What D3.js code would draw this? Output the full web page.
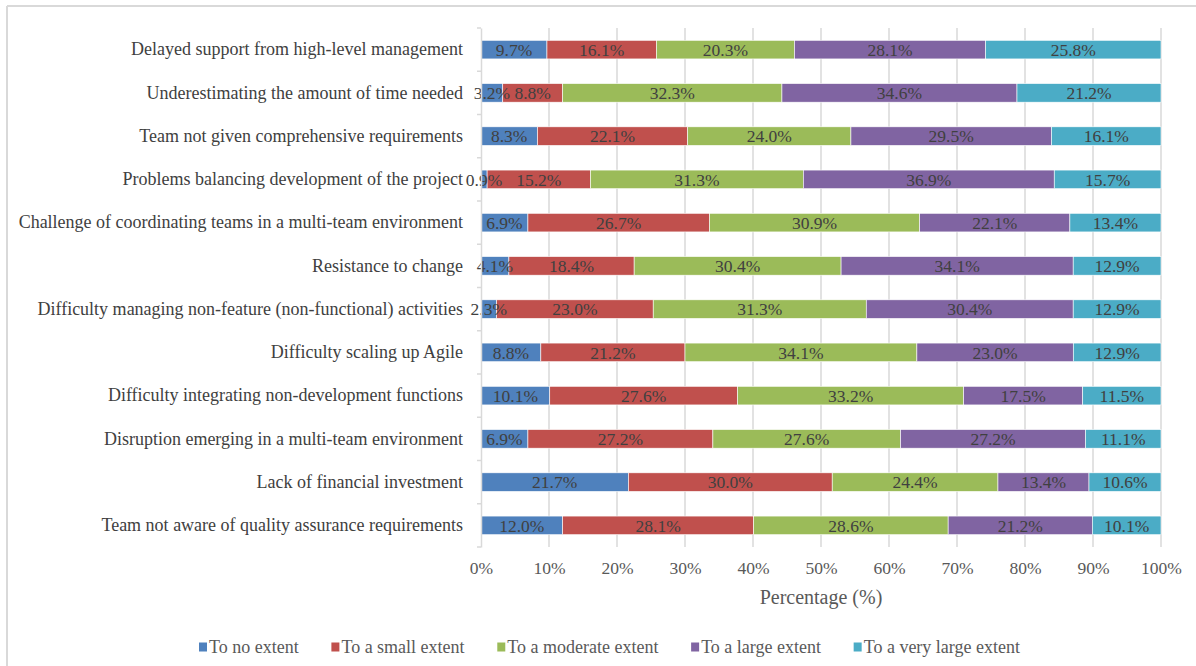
<!DOCTYPE html>
<html>
<head>
<meta charset="utf-8">
<script src="https://cdn.jsdelivr.net/npm/d3@7"></script>
<style>
  body { margin: 0; background: #fff; }
  text { font-family: "Liberation Serif", "Times New Roman", serif; }
</style>
</head>
<body>
<script>
const w = 1196;
const h = 666;

// categories, top to bottom
const categories = [
    "Delayed support from high-level management",
    "Underestimating the amount of time needed",
    "Team not given comprehensive requirements",
    "Problems balancing development of the project",
    "Challenge of coordinating teams  in a multi-team environment",
    "Resistance to change",
    "Difficulty managing non-feature (non-functional) activities",
    "Difficulty scaling up Agile",
    "Difficulty integrating non-development functions",
    "Disruption emerging in a multi-team environment",
    "Lack of financial investment",
    "Team not aware of quality assurance requirements"
];

const seriesNames = ["To no extent", "To a small extent", "To a moderate extent", "To a large extent", "To a very large extent"];
const colors = ["#4F81BD", "#C0504D", "#9BBB59", "#8064A2", "#4BACC6"];

const noExtent       = [9.7, 3.2, 8.3, 0.9, 6.9, 4.1, 2.3, 8.8, 10.1, 6.9, 21.7, 12.0];
const smallExtent    = [16.1, 8.8, 22.1, 15.2, 26.7, 18.4, 23.0, 21.2, 27.6, 27.2, 30.0, 28.1];
const moderateExtent = [20.3, 32.3, 24.0, 31.3, 30.9, 30.4, 31.3, 34.1, 33.2, 27.6, 24.4, 28.6];
const largeExtent    = [28.1, 34.6, 29.5, 36.9, 22.1, 34.1, 30.4, 23.0, 17.5, 27.2, 13.4, 21.2];
const veryLarge      = [25.8, 21.2, 16.1, 15.7, 13.4, 12.9, 12.9, 12.9, 11.5, 11.1, 10.6, 10.1];

const tickValues = [0, 10, 20, 30, 40, 50, 60, 70, 80, 90, 100];

const allSeries = [noExtent, smallExtent, moderateExtent, largeExtent, veryLarge];

// 100% stacked rows (normalized like excel)
const rows = categories.map((c, i) => {
    const vals = allSeries.map(s => s[i]);
    const total = d3.sum(vals);
    let acc = 0;
    return {
        cat: c,
        segs: vals.map((v, j) => {
            const s = { v: v, j: j, x0: acc / total * 100, x1: (acc + v) / total * 100 };
            acc += v;
            return s;
        })
    };
});

const pLeft = 481, pRight = 1161, pTop = 28, pBottom = 547;

const x = d3.scaleLinear().domain([0, 100]).range([pLeft, pRight]);
const y = d3.scaleBand().domain(categories).range([pTop, pBottom]).paddingInner(0.57).paddingOuter(0.285);

const svg = d3.select('body').append('svg').attr('width', w).attr('height', h);

// outer frame (only top & left visible)
svg.append('line').attr('x1', 7).attr('x2', w).attr('y1', 6).attr('y2', 6)
    .attr('stroke', '#d9d9d9').attr('stroke-width', 2);
svg.append('line').attr('x1', 7).attr('x2', 7).attr('y1', 6).attr('y2', h)
    .attr('stroke', '#d9d9d9').attr('stroke-width', 2);

// gridlines
svg.append('g').selectAll('line')
    .data(tickValues.slice(1))
    .enter().append('line')
    .attr('x1', d => x(d)).attr('x2', d => x(d))
    .attr('y1', pTop).attr('y2', pBottom)
    .attr('stroke', '#d9d9d9').attr('stroke-width', 1.5);

// bars
const rowG = svg.append('g').selectAll('g')
    .data(rows)
    .enter().append('g');

rowG.selectAll('rect')
    .data(d => d.segs.map(s => Object.assign({ cat: d.cat }, s)))
    .enter().append('rect')
    .attr('x', d => x(d.x0))
    .attr('width', d => x(d.x1) - x(d.x0))
    .attr('y', d => y(d.cat))
    .attr('height', y.bandwidth())
    .attr('fill', d => colors[d.j])
    .attr('stroke', '#fff')
    .attr('stroke-width', 0.6);

rowG.selectAll('text')
    .data(d => d.segs.map(s => Object.assign({ cat: d.cat }, s)))
    .enter().append('text')
    .attr('x', d => (x(d.x0) + x(d.x1)) / 2)
    .attr('y', d => y(d.cat) + y.bandwidth() / 2)
    .attr('dy', '0.35em')
    .attr('text-anchor', 'middle')
    .attr('font-size', '17.5px')
    .attr('fill', '#404040')
    .text(d => d.v.toFixed(1) + '%');

// y axis
const yAxis = d3.axisLeft(y).tickSize(0).tickPadding(18);
const yg = svg.append('g').attr('transform', `translate(${pLeft},0)`).call(yAxis);
yg.select('.domain').attr('stroke', '#d9d9d9').attr('stroke-width', 1.5);
yg.selectAll('text').attr('font-size', '18px').attr('fill', '#404040')
    .attr('font-family', '"Liberation Serif", serif');

// small category separators on the axis
const step = y.step();
svg.append('g').selectAll('line')
    .data(d3.range(categories.length + 1))
    .enter().append('line')
    .attr('x1', pLeft - 4).attr('x2', pLeft)
    .attr('y1', i => pTop + i * step).attr('y2', i => pTop + i * step)
    .attr('stroke', '#d9d9d9').attr('stroke-width', 1.5);

// x axis labels
const xAxis = d3.axisBottom(x).tickValues(tickValues).tickSize(0).tickPadding(15)
    .tickFormat(d => d + '%');
const xg = svg.append('g').attr('transform', `translate(0,${pBottom})`).call(xAxis);
xg.select('.domain').remove();
xg.selectAll('text').attr('font-size', '17.5px').attr('fill', '#595959')
    .attr('font-family', '"Liberation Serif", serif');

svg.append('text')
    .attr('x', (pLeft + pRight) / 2)
    .attr('y', 604)
    .attr('text-anchor', 'middle')
    .attr('font-size', '20px')
    .attr('fill', '#595959')
    .text('Percentage (%)');

// legend
const legend = svg.append('g');
const items = legend.selectAll('g')
    .data(seriesNames)
    .enter().append('g');
items.append('rect')
    .attr('width', 8).attr('height', 9)
    .attr('y', -4.5)
    .attr('fill', (d, i) => colors[i]);
items.append('text')
    .attr('x', 10)
    .attr('dy', '0.35em')
    .attr('font-size', '18px')
    .attr('fill', '#595959')
    .text(d => d);

// spread items between the reference's first marker and last text end
const legStart = 199, legEnd = 1020;
const widths = [];
items.each(function () { widths.push(this.getBBox().width); });
const gap = (legEnd - legStart - d3.sum(widths)) / (widths.length - 1);
let lx = legStart;
items.each(function (d, i) {
    d3.select(this).attr('transform', `translate(${lx},647)`);
    lx += widths[i] + gap;
});
</script>
</body>
</html>
